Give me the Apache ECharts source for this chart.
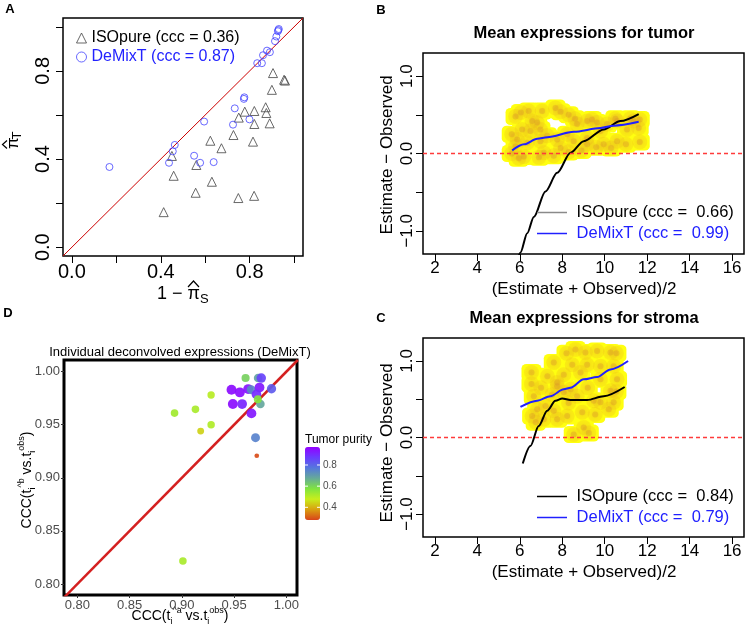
<!DOCTYPE html>
<html><head><meta charset="utf-8">
<script src="https://cdn.jsdelivr.net/npm/echarts@6/dist/echarts.min.js"></script>
<style>html,body{margin:0;padding:0;background:#fff}#c{width:745px;height:628px}</style>
</head><body><div id="c"></div>
<script>
// ---------- Panel A: estimated tumor proportions ----------
const aIsoName = 'ISOpure (ccc = 0.36)';
const aDemName = 'DeMixT (ccc = 0.87)';
const aIsoX = [0.413,0.450,0.458,0.557,0.560,0.623,0.630,0.673,0.727,0.749,0.751,0.778,0.821,0.820,0.815,0.821,0.872,0.875,0.890,0.900,0.905,0.959,0.955];
const aIsoY = [0.159,0.414,0.324,0.247,0.373,0.483,0.297,0.449,0.509,0.223,0.588,0.615,0.618,0.233,0.479,0.559,0.635,0.609,0.562,0.714,0.790,0.756,0.760];
const aDemX = [0.169,0.437,0.454,0.463,0.550,0.577,0.638,0.595,0.725,0.733,0.774,0.776,0.799,0.834,0.855,0.860,0.878,0.891,0.914,0.920,0.927,0.931,0.929];
const aDemY = [0.364,0.383,0.435,0.464,0.415,0.383,0.386,0.570,0.556,0.630,0.673,0.680,0.580,0.835,0.835,0.871,0.892,0.885,0.935,0.956,0.980,0.990,0.985];
const aLimits = [-0.04, 1.04];
const aTicks = [0, 0.2, 0.4, 0.6, 0.8, 1.0];
const aTickLabels = [0, 0.4, 0.8];

// ---------- Panels B & C: Bland-Altman style ----------
const bcXLimits = [1.44, 16.56];
const bcYLimits = [-1.3, 1.3];
const bcXTicks = [2, 4, 6, 8, 10, 12, 14, 16];
const bcYTicks = [-1, -0.5, 0, 0.5, 1];
const bcYTickLabels = [-1, 0, 1];
const bcRefY = 0;

const bTitle = 'Mean expressions for tumor';
const bIsoName = 'ISOpure (ccc =  0.66)';
const bDemName = 'DeMixT (ccc =  0.99)';
const bDensX = [6.42,7.68,7.92,6.58,6.82,6.11,5.88,6.50,6.97,7.29,5.80,6.35,6.97,7.76,8.23,8.70,9.17,9.64,10.11,10.58,11.36,11.60,11.05,9.80,9.17,8.54,7.92,7.13,6.19,9.17,9.95,10.58,5.62,5.62,5.80,5.95,6.90,7.60,8.30,8.90,9.60,10.30,11.00,11.65,11.65,10.50,11.20,9.40,8.60,7.05,6.05,8.30];
const bDensY = [0.55,0.59,0.54,0.42,0.40,0.31,0.18,0.29,0.31,0.23,0.09,0.14,0.16,0.18,0.25,0.38,0.42,0.40,0.38,0.42,0.42,0.33,0.31,0.29,0.20,0.16,0.07,0.01,-0.04,0.12,0.12,0.16,0.00,0.25,0.48,-0.06,-0.05,-0.03,0.02,0.04,0.08,0.07,0.12,0.44,0.15,0.45,0.45,0.44,0.45,0.55,0.53,0.50];
const bIsoCurveX = [5.85,6.03,6.35,6.66,7.21,7.76,8.39,9.01,9.95,10.74,11.60];
const bIsoCurveY = [-1.42,-1.28,-1.03,-0.82,-0.49,-0.25,0.01,0.16,0.31,0.42,0.51];
const bDemCurveX = [5.64,6.20,6.82,7.29,8.54,9.80,10.42,11.60];
const bDemCurveY = [0.04,0.12,0.19,0.21,0.28,0.33,0.36,0.41];

const cTitle = 'Mean expressions for stroma';
const cIsoName = 'ISOpure (ccc =  0.84)';
const cDemName = 'DeMixT (ccc =  0.79)';
const cDensX = [6.55,7.76,8.07,8.62,9.09,9.17,9.64,10.27,8.47,8.86,7.52,7.76,8.07,8.39,8.70,6.82,7.21,7.60,7.76,7.13,8.23,8.94,9.48,9.80,10.27,10.42,10.19,8.54,9.01,6.66,6.58,10.58,9.80,7.60,9.80,10.42,6.55,7.00,7.30,8.20,10.55,10.55,6.75,8.30,9.20,9.55,9.25];
const cDensY = [0.85,0.72,0.82,1.15,1.11,0.95,1.13,1.11,0.95,0.85,0.56,0.67,0.59,0.63,0.54,0.37,0.41,0.35,0.24,0.24,0.28,0.33,0.48,0.46,0.61,0.46,0.37,0.04,0.13,0.54,0.28,0.76,0.76,0.98,0.93,0.93,0.70,0.65,0.80,1.10,1.10,0.60,0.20,0.45,0.65,0.30,0.06];
const cIsoCurveX = [6.14,6.50,6.89,7.29,7.68,8.00,8.39,9.17,9.95,10.94];
const cIsoCurveY = [-0.34,-0.11,0.15,0.35,0.48,0.51,0.49,0.49,0.54,0.66];
const cDemCurveX = [6.03,6.82,7.44,8.07,8.39,9.01,9.64,10.27,11.10];
const cDemCurveY = [0.40,0.48,0.54,0.63,0.65,0.76,0.79,0.89,1.00];

// ---------- Panel D: individual CCC ----------
const dTitle = 'Individual deconvolved expressions (DeMixT)';
const dX = [0.961,0.973,0.976,0.9475,0.9555,0.9635,0.9663,0.9743,0.9858,0.9714,0.9488,0.9577,0.9752,0.9727,0.9666,0.9705,0.9717,0.928,0.913,0.893,0.928,0.918,0.901];
const dY = [0.994,0.994,0.994,0.983,0.9805,0.9836,0.983,0.985,0.9839,0.9786,0.9695,0.9695,0.9695,0.974,0.9607,0.9378,0.9208,0.978,0.9645,0.961,0.950,0.944,0.8217];
const dPurity = [0.61,0.69,0.86,0.95,0.95,0.94,0.74,0.93,0.82,0.90,0.95,0.91,0.68,0.57,0.93,0.75,0.29,0.50,0.52,0.53,0.51,0.44,0.52];
const dXLimits = [0.7872, 1.0102];
const dYLimits = [0.7896, 1.0110];
const dTicks = [0.80, 0.85, 0.90, 0.95, 1.00];
const purityRange = [0.28, 0.97];
const purityTicks = [0.4, 0.6, 0.8];
const purityColors = ['#d9441a','#d9a010','#c8ee1c','#80e440','#66aa99','#5577dd','#6a3cff','#9400ff'];

// ---------- helpers ----------
const FONT = '"Liberation Sans", Arial, Helvetica, sans-serif';
const zip = (xs, ys) => xs.map((x, i) => [x, ys[i]]);
const minus = s => String(s).replace('-', '\u2212');
const LINE_ICON = 'path://M0,0H40V2H0Z';

function rAxis(gridIndex, lim, ticks, labels, o) {
  return {
    gridIndex, type: 'value', min: lim[0], max: lim[1], scale: true,
    axisLine: { show: false, onZero: false }, splitLine: { show: false },
    axisTick: { show: true, inside: false, length: o.tickLen || 7, customValues: ticks,
      lineStyle: { color: o.tickColor || '#000', width: 1 } },
    axisLabel: { customValues: labels, fontSize: o.fs, color: o.color || '#000', fontFamily: FONT,
      margin: o.margin, rotate: o.rotate || 0, formatter: o.fmt, hideOverlap: false }
  };
}

const dens = (xi, yi, xs, ys) => ([
  { type: 'scatter', xAxisIndex: xi, yAxisIndex: yi, silent: true, data: zip(xs, ys),
    symbol: 'roundRect', symbolSize: [20, 17], itemStyle: { color: '#ffff10', opacity: 1 }, z: 1 },
  { type: 'scatter', xAxisIndex: xi, yAxisIndex: yi, silent: true, data: zip(xs, ys),
    symbol: 'circle', symbolSize: 15, itemStyle: { color: '#eec020', opacity: 0.3 }, z: 1 },
  { type: 'scatter', xAxisIndex: xi, yAxisIndex: yi, silent: true, data: zip(xs, ys),
    symbol: 'circle', symbolSize: 6, itemStyle: { color: '#d9952b', opacity: 0.35, shadowBlur: 4, shadowColor: '#d9952b' }, z: 1 }
]);

const refLine = (xi, yi) => ({
  type: 'line', xAxisIndex: xi, yAxisIndex: yi, silent: true, symbol: 'none', showSymbol: false,
  data: [[bcXLimits[0], bcRefY], [bcXLimits[1], bcRefY]],
  lineStyle: { type: [4, 3], color: '#ff3b3b', width: 1.6 }, z: 5
});

const curve = (xi, yi, name, xs, ys, color) => ({
  type: 'line', name, xAxisIndex: xi, yAxisIndex: yi, data: zip(xs, ys),
  symbol: 'none', showSymbol: false, smooth: 0.3, smoothMonotone: 'x', clip: true,
  lineStyle: { color, width: 2 }, itemStyle: { color }, z: 3
});

const pSize = p => 4 + 6 * Math.sqrt(Math.max(0, (p - purityRange[0]) / (purityRange[1] - purityRange[0])));
const yFmt = v => minus(v.toFixed(1));
const barY = p => 447 + (purityRange[1] - p) / (purityRange[1] - purityRange[0]) * 73;

const series = [
  // A
  { type: 'line', xAxisIndex: 0, yAxisIndex: 0, silent: true, symbol: 'none', data: [[aLimits[0], aLimits[0]], [aLimits[1], aLimits[1]]],
    lineStyle: { color: '#cc0000', width: 1 }, z: 1 },
  { type: 'scatter', name: aIsoName, xAxisIndex: 0, yAxisIndex: 0, data: zip(aIsoX, aIsoY), symbol: 'triangle', symbolSize: 9,
    itemStyle: { color: 'rgba(0,0,0,0)', borderColor: '#444', borderWidth: 1 }, z: 2 },
  { type: 'scatter', name: aDemName, xAxisIndex: 0, yAxisIndex: 0, data: zip(aDemX, aDemY), symbol: 'circle', symbolSize: 7,
    itemStyle: { color: 'rgba(0,0,0,0)', borderColor: '#4444ff', borderWidth: 1 }, z: 2 },
  // B
  ...dens(1, 1, bDensX, bDensY),
  refLine(1, 1),
  curve(1, 1, bIsoName, bIsoCurveX, bIsoCurveY, '#000'),
  curve(1, 1, bDemName, bDemCurveX, bDemCurveY, '#2020ff'),
  // C
  ...dens(2, 2, cDensX, cDensY),
  refLine(2, 2),
  curve(2, 2, cIsoName, cIsoCurveX, cIsoCurveY, '#000'),
  curve(2, 2, cDemName, cDemCurveX, cDemCurveY, '#2020ff'),
  // D
  { type: 'line', xAxisIndex: 3, yAxisIndex: 3, silent: true, symbol: 'none', clip: true,
    data: [[Math.min(dXLimits[0], dYLimits[0]), Math.min(dXLimits[0], dYLimits[0])], [Math.max(dXLimits[1], dYLimits[1]), Math.max(dXLimits[1], dYLimits[1])]],
    lineStyle: { color: '#d42020', width: 2.5 }, z: 1 },
  { id: 'dPoints', type: 'scatter', xAxisIndex: 3, yAxisIndex: 3, data: dX.map((x, i) => [x, dY[i], dPurity[i]]),
    symbol: 'circle', symbolSize: v => pSize(v[2]), itemStyle: { opacity: 0.92 }, z: 2 }
];
const dPointsIndex = series.findIndex(s => s.id === 'dPoints');

const richLab = {
  b: { fontSize: 14, fontFamily: FONT, lineHeight: 20, verticalAlign: 'middle', fill: '#000' },
  sup: { fontSize: 9, fontFamily: FONT, lineHeight: 9, verticalAlign: 'top', fill: '#000' },
  sub: { fontSize: 9, fontFamily: FONT, lineHeight: 9, verticalAlign: 'bottom', fill: '#000' }
};

const option = {
  animation: false,
  backgroundColor: '#fff',
  textStyle: { fontFamily: FONT },
  grid: [
    { left: 63, top: 18, width: 240, height: 238, show: true, borderColor: '#000', borderWidth: 1.5, backgroundColor: 'transparent', outerBoundsMode: 'none' },
    { left: 423, top: 53, width: 321, height: 201, show: true, borderColor: '#000', borderWidth: 1.5, backgroundColor: 'transparent', outerBoundsMode: 'none' },
    { left: 423, top: 338, width: 321, height: 199, show: true, borderColor: '#000', borderWidth: 1.5, backgroundColor: 'transparent', outerBoundsMode: 'none' },
    { left: 64, top: 360, width: 233, height: 235, show: true, borderColor: '#000', borderWidth: 3, backgroundColor: 'transparent', outerBoundsMode: 'none' }
  ],
  xAxis: [
    rAxis(0, aLimits, aTicks, aTickLabels, { fs: 20, margin: 6, fmt: v => v.toFixed(1) }),
    rAxis(1, bcXLimits, bcXTicks, bcXTicks, { fs: 17, margin: 6, fmt: v => String(v) }),
    rAxis(2, bcXLimits, bcXTicks, bcXTicks, { fs: 17, margin: 6, fmt: v => String(v) }),
    rAxis(3, dXLimits, dTicks, dTicks, { fs: 13, margin: 4, tickLen: 3, tickColor: '#333', color: '#4d4d4d', fmt: v => v.toFixed(2) })
  ],
  yAxis: [
    rAxis(0, aLimits, aTicks, aTickLabels, { fs: 20, margin: 10, rotate: 90, fmt: v => v.toFixed(1) }),
    rAxis(1, bcYLimits, bcYTicks, bcYTickLabels, { fs: 17, margin: 7, rotate: 90, fmt: yFmt }),
    rAxis(2, bcYLimits, bcYTicks, bcYTickLabels, { fs: 17, margin: 7, rotate: 90, fmt: yFmt }),
    rAxis(3, dYLimits, dTicks, dTicks, { fs: 13, margin: 4, tickLen: 3, tickColor: '#333', color: '#4d4d4d', fmt: v => v.toFixed(2) })
  ],
  legend: [
    { left: 71, top: 25, orient: 'vertical', itemWidth: 10, itemHeight: 10, itemGap: 3, selectedMode: false,
      textStyle: { fontSize: 16, color: '#000', fontFamily: FONT },
      data: [
        { name: aIsoName, icon: 'triangle', itemStyle: { color: 'rgba(0,0,0,0)', borderColor: '#444', borderWidth: 1 } },
        { name: aDemName, icon: 'circle', itemStyle: { color: 'rgba(0,0,0,0)', borderColor: '#4444ff', borderWidth: 1 }, textStyle: { color: '#2222ff' } }
      ] },
    { left: 532, top: 199, orient: 'vertical', itemWidth: 30, itemHeight: 12, itemGap: 4, selectedMode: false,
      formatter: n => ' ' + n,
      textStyle: { fontSize: 16.5, color: '#000', fontFamily: FONT },
      data: [
        { name: bIsoName, icon: LINE_ICON, itemStyle: { color: '#8a8a8a' } },
        { name: bDemName, icon: LINE_ICON, itemStyle: { color: '#2020ff' }, textStyle: { color: '#2020ff' } }
      ] },
    { left: 532, top: 483, orient: 'vertical', itemWidth: 30, itemHeight: 12, itemGap: 4, selectedMode: false,
      formatter: n => ' ' + n,
      textStyle: { fontSize: 16.5, color: '#000', fontFamily: FONT },
      data: [
        { name: cIsoName, icon: LINE_ICON, itemStyle: { color: '#000' } },
        { name: cDemName, icon: LINE_ICON, itemStyle: { color: '#2020ff' }, textStyle: { color: '#2020ff' } }
      ] }
  ],
  visualMap: [{
    type: 'continuous', seriesIndex: dPointsIndex, dimension: 2, min: purityRange[0], max: purityRange[1],
    inRange: { color: purityColors }, left: 305, top: 447, itemWidth: 15, itemHeight: 73,
    calculable: false, padding: 0, show: true, hoverLink: false, text: null
  }],
  series,
  graphic: [
    { type: 'text', x: 10, y: 9, style: { text: 'A', font: 'bold 13px ' + FONT, fill: '#000', align: 'center', verticalAlign: 'middle' } },
    { type: 'text', x: 381, y: 10, style: { text: 'B', font: 'bold 13px ' + FONT, fill: '#000', align: 'center', verticalAlign: 'middle' } },
    { type: 'text', x: 381, y: 318, style: { text: 'C', font: 'bold 13px ' + FONT, fill: '#000', align: 'center', verticalAlign: 'middle' } },
    { type: 'text', x: 8, y: 313, style: { text: 'D', font: 'bold 13px ' + FONT, fill: '#000', align: 'center', verticalAlign: 'middle' } },
    { type: 'text', x: 584, y: 33, style: { text: bTitle, font: 'bold 16.5px ' + FONT, fill: '#000', align: 'center', verticalAlign: 'middle' } },
    { type: 'text', x: 584, y: 318, style: { text: cTitle, font: 'bold 16.5px ' + FONT, fill: '#000', align: 'center', verticalAlign: 'middle' } },
    { type: 'text', x: 180, y: 352, style: { text: dTitle, font: '13px ' + FONT, fill: '#000', align: 'center', verticalAlign: 'middle' } },
    { type: 'text', x: 200, y: 294, style: { text: '1 \u2212 \u03c0', font: '18px ' + FONT, fill: '#000', align: 'right', verticalAlign: 'middle' } },
    { type: 'polyline', shape: { points: [[188, 287], [193.5, 281], [199, 287]] }, style: { stroke: '#000', lineWidth: 1.2, fill: null } },
    { type: 'text', x: 200, y: 299, style: { text: 'S', font: '13px ' + FONT, fill: '#000', align: 'left', verticalAlign: 'middle' } },
    { type: 'group', x: 13, y: 149, rotation: Math.PI / 2, children: [
      { type: 'text', x: 0, y: 0, style: { text: '\u03c0', font: '17px ' + FONT, fill: '#000', align: 'left', verticalAlign: 'middle' } },
      { type: 'polyline', shape: { points: [[0.5, -6], [4.5, -10.5], [8.5, -6]] }, style: { stroke: '#000', lineWidth: 1.2, fill: null } },
      { type: 'text', x: 9.5, y: 4, style: { text: 'T', font: '13px ' + FONT, fill: '#000', align: 'left', verticalAlign: 'middle' } }
    ] },
    { type: 'text', x: 387, y: 155, rotation: Math.PI / 2, style: { text: 'Estimate \u2212 Observed', font: '17px ' + FONT, fill: '#000', align: 'center', verticalAlign: 'middle' } },
    { type: 'text', x: 584, y: 289, style: { text: '(Estimate + Observed)/2', font: '17px ' + FONT, fill: '#000', align: 'center', verticalAlign: 'middle' } },
    { type: 'text', x: 387, y: 443, rotation: Math.PI / 2, style: { text: 'Estimate \u2212 Observed', font: '17px ' + FONT, fill: '#000', align: 'center', verticalAlign: 'middle' } },
    { type: 'text', x: 584, y: 572, style: { text: '(Estimate + Observed)/2', font: '17px ' + FONT, fill: '#000', align: 'center', verticalAlign: 'middle' } },
    { type: 'text', x: 180, y: 616, style: { text: '{b|CCC(t}{sub|i}{sup|^a}{b| vs.t}{sub|i}{sup|obs}{b|)}', align: 'center', verticalAlign: 'middle', rich: richLab } },
    { type: 'text', x: 27, y: 480, rotation: Math.PI / 2, style: { text: '{b|CCC(t}{sub|i}{sup|^b}{b| vs.t}{sub|i}{sup|obs}{b|)}', align: 'center', verticalAlign: 'middle', rich: richLab } },
    { type: 'text', x: 305, y: 440, style: { text: 'Tumor purity', font: '12px ' + FONT, fill: '#000', align: 'left', verticalAlign: 'middle' } },
    ...purityTicks.map(p => ({ type: 'text', x: 323, y: barY(p),
      style: { text: p.toFixed(1), font: '10px ' + FONT, fill: '#4d4d4d', align: 'left', verticalAlign: 'middle' } })),
    ...purityTicks.map(p => ({ type: 'line', z: 100, shape: { x1: 305, x2: 308, y1: barY(p), y2: barY(p) }, style: { stroke: '#fff', lineWidth: 1 } })),
    ...purityTicks.map(p => ({ type: 'line', z: 100, shape: { x1: 317, x2: 320, y1: barY(p), y2: barY(p) }, style: { stroke: '#fff', lineWidth: 1 } }))
  ]
};

const chart = echarts.init(document.getElementById('c'), null, { renderer: 'canvas' });
chart.setOption(option);
</script>
</body></html>
